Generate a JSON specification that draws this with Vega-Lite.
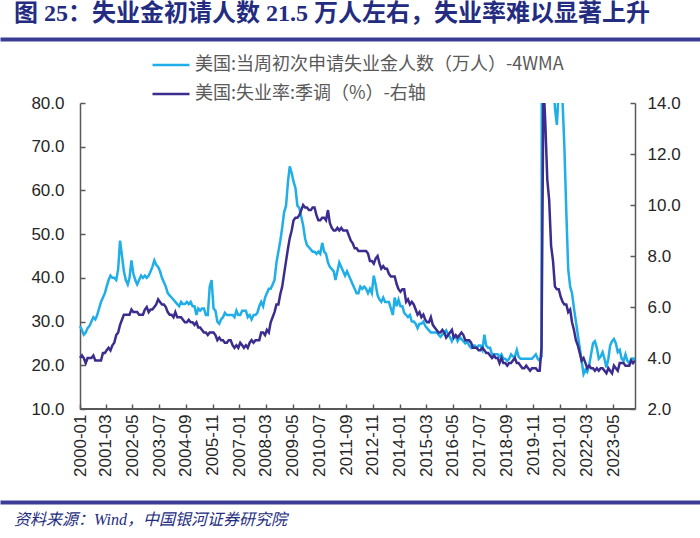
{
  "$schema": "https://vega.github.io/schema/vega-lite/v6.json",
  "padding": 0,
  "background": "white",
  "columns": 1,
  "spacing": -1,
  "resolve": {"scale": {"color": "independent"}, "legend": {"color": "independent"}},
  "config": {
    "view": {"stroke": null},
    "axis": {"domainColor": "#595959", "tickColor": "#595959", "labelColor": "#262626", "labelFont": "Liberation Sans", "labelFontSize": 17, "grid": false, "domainWidth": 1.5, "tickWidth": 1.5, "title": null, "labelOverlap": false},
    "legend": {"padding": 0}
  },
  "concat": [
    {
      "width": 700,
      "height": 1,
      "view": {"stroke": "#3C3C96", "strokeWidth": 3, "fill": "white"},
      "title": {"text": "图 25：失业金初请人数 21.5 万人左右，失业率难以显著上升", "anchor": "start", "fontSize": 24, "font": "Liberation Serif, Noto Sans CJK SC", "fontWeight": "bold", "color": "#232C80", "dx": 12, "offset": 8},
      "data": {"values": [{"k": 1}]},
      "mark": {"type": "text"},
      "encoding": {}
    },
    {
      "columns": 1,
      "spacing": 18,
      "resolve": {"scale": {"color": "independent"}, "legend": {"color": "independent"}},
      "concat": [
        {
          "width": 633,
          "height": 306,
          "data": {"values": [
{"date":"2000-01-15","claims":29.0,"rate":4.0},{"date":"2000-02-15","claims":28.0,"rate":4.1},{"date":"2000-03-15","claims":27.0,"rate":4.0},{"date":"2000-04-15","claims":27.5,"rate":3.8},{"date":"2000-05-15","claims":28.5,"rate":4.0},{"date":"2000-06-15","claims":29.0,"rate":4.0},{"date":"2000-07-15","claims":30.0,"rate":4.0},{"date":"2000-08-15","claims":31.0,"rate":4.1},{"date":"2000-09-15","claims":30.5,"rate":3.9},{"date":"2000-10-15","claims":31.5,"rate":3.9},{"date":"2000-11-15","claims":33.0,"rate":3.9},{"date":"2000-12-15","claims":34.5,"rate":3.9},
{"date":"2001-01-15","claims":35.5,"rate":4.2},{"date":"2001-02-15","claims":36.5,"rate":4.2},{"date":"2001-03-15","claims":38.0,"rate":4.3},{"date":"2001-04-15","claims":39.5,"rate":4.4},{"date":"2001-05-15","claims":40.5,"rate":4.3},{"date":"2001-06-15","claims":40.0,"rate":4.5},{"date":"2001-07-15","claims":40.0,"rate":4.6},{"date":"2001-08-15","claims":39.5,"rate":4.9},{"date":"2001-09-15","claims":42.0,"rate":5.0},{"date":"2001-10-15","claims":48.5,"rate":5.3},{"date":"2001-11-15","claims":45.0,"rate":5.5},{"date":"2001-12-15","claims":41.5,"rate":5.7},
{"date":"2002-01-15","claims":39.5,"rate":5.7},{"date":"2002-02-15","claims":38.5,"rate":5.7},{"date":"2002-03-15","claims":40.0,"rate":5.7},{"date":"2002-04-15","claims":44.0,"rate":5.9},{"date":"2002-05-15","claims":41.0,"rate":5.8},{"date":"2002-06-15","claims":39.5,"rate":5.8},{"date":"2002-07-15","claims":38.5,"rate":5.8},{"date":"2002-08-15","claims":39.5,"rate":5.7},{"date":"2002-09-15","claims":40.5,"rate":5.7},{"date":"2002-10-15","claims":40.0,"rate":5.7},{"date":"2002-11-15","claims":40.5,"rate":5.9},{"date":"2002-12-15","claims":40.0,"rate":6.0},
{"date":"2003-01-15","claims":40.5,"rate":5.8},{"date":"2003-02-15","claims":41.5,"rate":5.9},{"date":"2003-03-15","claims":42.5,"rate":5.9},{"date":"2003-04-15","claims":44.0,"rate":6.0},{"date":"2003-05-15","claims":43.0,"rate":6.1},{"date":"2003-06-15","claims":42.5,"rate":6.3},{"date":"2003-07-15","claims":41.5,"rate":6.2},{"date":"2003-08-15","claims":40.0,"rate":6.1},{"date":"2003-09-15","claims":39.0,"rate":6.1},{"date":"2003-10-15","claims":38.0,"rate":6.0},{"date":"2003-11-15","claims":36.5,"rate":5.8},{"date":"2003-12-15","claims":36.0,"rate":5.7},
{"date":"2004-01-15","claims":35.5,"rate":5.7},{"date":"2004-02-15","claims":35.0,"rate":5.6},{"date":"2004-03-15","claims":34.5,"rate":5.8},{"date":"2004-04-15","claims":34.0,"rate":5.6},{"date":"2004-05-15","claims":33.5,"rate":5.6},{"date":"2004-06-15","claims":34.5,"rate":5.6},{"date":"2004-07-15","claims":34.0,"rate":5.5},{"date":"2004-08-15","claims":34.0,"rate":5.4},{"date":"2004-09-15","claims":34.5,"rate":5.4},{"date":"2004-10-15","claims":34.0,"rate":5.5},{"date":"2004-11-15","claims":34.5,"rate":5.4},{"date":"2004-12-15","claims":33.5,"rate":5.4},
{"date":"2005-01-15","claims":33.5,"rate":5.3},{"date":"2005-02-15","claims":31.5,"rate":5.4},{"date":"2005-03-15","claims":33.0,"rate":5.2},{"date":"2005-04-15","claims":32.5,"rate":5.2},{"date":"2005-05-15","claims":33.0,"rate":5.1},{"date":"2005-06-15","claims":33.0,"rate":5.0},{"date":"2005-07-15","claims":31.5,"rate":5.0},{"date":"2005-08-15","claims":31.5,"rate":4.9},{"date":"2005-09-15","claims":38.0,"rate":5.0},{"date":"2005-10-15","claims":39.5,"rate":5.0},{"date":"2005-11-15","claims":33.0,"rate":5.0},{"date":"2005-12-15","claims":32.5,"rate":4.9},
{"date":"2006-01-15","claims":30.0,"rate":4.7},{"date":"2006-02-15","claims":29.5,"rate":4.8},{"date":"2006-03-15","claims":30.5,"rate":4.7},{"date":"2006-04-15","claims":31.0,"rate":4.7},{"date":"2006-05-15","claims":32.0,"rate":4.6},{"date":"2006-06-15","claims":31.5,"rate":4.6},{"date":"2006-07-15","claims":31.5,"rate":4.7},{"date":"2006-08-15","claims":31.5,"rate":4.7},{"date":"2006-09-15","claims":31.5,"rate":4.5},{"date":"2006-10-15","claims":31.0,"rate":4.4},{"date":"2006-11-15","claims":32.5,"rate":4.5},{"date":"2006-12-15","claims":31.5,"rate":4.4},
{"date":"2007-01-15","claims":31.5,"rate":4.6},{"date":"2007-02-15","claims":32.5,"rate":4.5},{"date":"2007-03-15","claims":32.5,"rate":4.4},{"date":"2007-04-15","claims":32.5,"rate":4.5},{"date":"2007-05-15","claims":31.0,"rate":4.4},{"date":"2007-06-15","claims":31.5,"rate":4.6},{"date":"2007-07-15","claims":30.5,"rate":4.7},{"date":"2007-08-15","claims":31.5,"rate":4.6},{"date":"2007-09-15","claims":31.5,"rate":4.7},{"date":"2007-10-15","claims":32.0,"rate":4.7},{"date":"2007-11-15","claims":33.5,"rate":4.7},{"date":"2007-12-15","claims":34.5,"rate":5.0},
{"date":"2008-01-15","claims":33.5,"rate":5.0},{"date":"2008-02-15","claims":35.5,"rate":4.9},{"date":"2008-03-15","claims":36.5,"rate":5.1},{"date":"2008-04-15","claims":37.5,"rate":5.0},{"date":"2008-05-15","claims":37.5,"rate":5.4},{"date":"2008-06-15","claims":38.5,"rate":5.6},{"date":"2008-07-15","claims":39.5,"rate":5.8},{"date":"2008-08-15","claims":43.5,"rate":6.1},{"date":"2008-09-15","claims":46.0,"rate":6.1},{"date":"2008-10-15","claims":48.5,"rate":6.5},{"date":"2008-11-15","claims":51.5,"rate":6.8},{"date":"2008-12-15","claims":55.0,"rate":7.3},
{"date":"2009-01-15","claims":56.5,"rate":7.8},{"date":"2009-02-15","claims":62.0,"rate":8.3},{"date":"2009-03-15","claims":65.5,"rate":8.7},{"date":"2009-04-15","claims":64.0,"rate":9.0},{"date":"2009-05-15","claims":62.0,"rate":9.4},{"date":"2009-06-15","claims":60.5,"rate":9.5},{"date":"2009-07-15","claims":56.5,"rate":9.5},{"date":"2009-08-15","claims":56.0,"rate":9.6},{"date":"2009-09-15","claims":54.0,"rate":9.8},{"date":"2009-10-15","claims":52.0,"rate":10.0},{"date":"2009-11-15","claims":49.0,"rate":9.9},{"date":"2009-12-15","claims":47.5,"rate":9.9},
{"date":"2010-01-15","claims":47.0,"rate":9.8},{"date":"2010-02-15","claims":46.5,"rate":9.8},{"date":"2010-03-15","claims":46.0,"rate":9.9},{"date":"2010-04-15","claims":46.0,"rate":9.9},{"date":"2010-05-15","claims":45.5,"rate":9.6},{"date":"2010-06-15","claims":46.0,"rate":9.4},{"date":"2010-07-15","claims":45.5,"rate":9.4},{"date":"2010-08-15","claims":48.0,"rate":9.5},{"date":"2010-09-15","claims":46.0,"rate":9.5},{"date":"2010-10-15","claims":45.5,"rate":9.4},{"date":"2010-11-15","claims":43.5,"rate":9.8},{"date":"2010-12-15","claims":42.5,"rate":9.3},
{"date":"2011-01-15","claims":42.0,"rate":9.1},{"date":"2011-02-15","claims":41.5,"rate":9.0},{"date":"2011-03-15","claims":39.5,"rate":9.0},{"date":"2011-04-15","claims":41.5,"rate":9.1},{"date":"2011-05-15","claims":43.5,"rate":9.0},{"date":"2011-06-15","claims":42.5,"rate":9.1},{"date":"2011-07-15","claims":41.5,"rate":9.0},{"date":"2011-08-15","claims":40.5,"rate":9.0},{"date":"2011-09-15","claims":41.5,"rate":9.0},{"date":"2011-10-15","claims":40.5,"rate":8.8},{"date":"2011-11-15","claims":39.5,"rate":8.6},{"date":"2011-12-15","claims":38.5,"rate":8.5},
{"date":"2012-01-15","claims":37.5,"rate":8.3},{"date":"2012-02-15","claims":36.5,"rate":8.3},{"date":"2012-03-15","claims":36.5,"rate":8.2},{"date":"2012-04-15","claims":38.0,"rate":8.2},{"date":"2012-05-15","claims":37.5,"rate":8.2},{"date":"2012-06-15","claims":38.0,"rate":8.2},{"date":"2012-07-15","claims":37.5,"rate":8.2},{"date":"2012-08-15","claims":36.5,"rate":8.1},{"date":"2012-09-15","claims":37.5,"rate":7.8},{"date":"2012-10-15","claims":36.5,"rate":7.8},{"date":"2012-11-15","claims":40.5,"rate":7.7},{"date":"2012-12-15","claims":38.5,"rate":7.9},
{"date":"2013-01-15","claims":36.0,"rate":8.0},{"date":"2013-02-15","claims":35.0,"rate":7.7},{"date":"2013-03-15","claims":34.5,"rate":7.5},{"date":"2013-04-15","claims":35.5,"rate":7.6},{"date":"2013-05-15","claims":34.5,"rate":7.5},{"date":"2013-06-15","claims":34.5,"rate":7.5},{"date":"2013-07-15","claims":34.5,"rate":7.3},{"date":"2013-08-15","claims":33.0,"rate":7.2},{"date":"2013-09-15","claims":31.5,"rate":7.2},{"date":"2013-10-15","claims":35.5,"rate":7.2},{"date":"2013-11-15","claims":33.5,"rate":6.9},{"date":"2013-12-15","claims":35.0,"rate":6.7},
{"date":"2014-01-15","claims":33.5,"rate":6.6},{"date":"2014-02-15","claims":33.5,"rate":6.7},{"date":"2014-03-15","claims":32.0,"rate":6.7},{"date":"2014-04-15","claims":31.5,"rate":6.2},{"date":"2014-05-15","claims":31.0,"rate":6.3},{"date":"2014-06-15","claims":31.5,"rate":6.1},{"date":"2014-07-15","claims":30.0,"rate":6.2},{"date":"2014-08-15","claims":30.0,"rate":6.1},{"date":"2014-09-15","claims":29.5,"rate":5.9},{"date":"2014-10-15","claims":28.5,"rate":5.7},{"date":"2014-11-15","claims":29.5,"rate":5.8},{"date":"2014-12-15","claims":29.5,"rate":5.6},
{"date":"2015-01-15","claims":30.0,"rate":5.7},{"date":"2015-02-15","claims":29.0,"rate":5.5},{"date":"2015-03-15","claims":28.5,"rate":5.4},{"date":"2015-04-15","claims":28.0,"rate":5.4},{"date":"2015-05-15","claims":27.5,"rate":5.6},{"date":"2015-06-15","claims":27.5,"rate":5.3},{"date":"2015-07-15","claims":27.5,"rate":5.2},{"date":"2015-08-15","claims":27.5,"rate":5.1},{"date":"2015-09-15","claims":27.0,"rate":5.0},{"date":"2015-10-15","claims":26.5,"rate":5.0},{"date":"2015-11-15","claims":27.0,"rate":5.1},{"date":"2015-12-15","claims":27.5,"rate":5.0},
{"date":"2016-01-15","claims":28.0,"rate":4.8},{"date":"2016-02-15","claims":27.0,"rate":4.9},{"date":"2016-03-15","claims":26.5,"rate":5.0},{"date":"2016-04-15","claims":25.5,"rate":5.1},{"date":"2016-05-15","claims":26.5,"rate":4.8},{"date":"2016-06-15","claims":26.5,"rate":4.9},{"date":"2016-07-15","claims":25.5,"rate":4.8},{"date":"2016-08-15","claims":26.5,"rate":4.9},{"date":"2016-09-15","claims":26.0,"rate":5.0},{"date":"2016-10-15","claims":25.5,"rate":4.9},{"date":"2016-11-15","claims":25.0,"rate":4.7},{"date":"2016-12-15","claims":25.5,"rate":4.7},
{"date":"2017-01-15","claims":24.5,"rate":4.7},{"date":"2017-02-15","claims":24.0,"rate":4.6},{"date":"2017-03-15","claims":24.5,"rate":4.4},{"date":"2017-04-15","claims":24.5,"rate":4.4},{"date":"2017-05-15","claims":24.0,"rate":4.4},{"date":"2017-06-15","claims":24.5,"rate":4.3},{"date":"2017-07-15","claims":24.5,"rate":4.3},{"date":"2017-08-15","claims":23.5,"rate":4.4},{"date":"2017-09-15","claims":27.0,"rate":4.3},{"date":"2017-10-15","claims":24.5,"rate":4.2},{"date":"2017-11-15","claims":24.0,"rate":4.2},{"date":"2017-12-15","claims":24.0,"rate":4.1},
{"date":"2018-01-15","claims":22.5,"rate":4.0},{"date":"2018-02-15","claims":22.5,"rate":4.1},{"date":"2018-03-15","claims":22.5,"rate":4.0},{"date":"2018-04-15","claims":22.5,"rate":4.0},{"date":"2018-05-15","claims":22.0,"rate":3.8},{"date":"2018-06-15","claims":22.5,"rate":4.0},{"date":"2018-07-15","claims":21.5,"rate":3.8},{"date":"2018-08-15","claims":21.5,"rate":3.8},{"date":"2018-09-15","claims":21.0,"rate":3.7},{"date":"2018-10-15","claims":21.5,"rate":3.8},{"date":"2018-11-15","claims":22.5,"rate":3.8},{"date":"2018-12-15","claims":22.0,"rate":3.9},
{"date":"2019-01-15","claims":22.0,"rate":4.0},{"date":"2019-02-15","claims":23.5,"rate":3.8},{"date":"2019-03-15","claims":22.0,"rate":3.8},{"date":"2019-04-15","claims":21.5,"rate":3.7},{"date":"2019-05-15","claims":21.5,"rate":3.6},{"date":"2019-06-15","claims":21.5,"rate":3.6},{"date":"2019-07-15","claims":21.5,"rate":3.7},{"date":"2019-08-15","claims":21.5,"rate":3.6},{"date":"2019-09-15","claims":21.5,"rate":3.5},{"date":"2019-10-15","claims":21.5,"rate":3.6},{"date":"2019-11-15","claims":22.0,"rate":3.6},{"date":"2019-12-15","claims":22.5,"rate":3.6},
{"date":"2020-01-15","claims":21.5,"rate":3.5},{"date":"2020-02-15","claims":21.0,"rate":3.5},{"date":"2020-03-15","claims":22.0,"rate":4.4},{"date":"2020-04-15","claims":550,"rate":14.8},{"date":"2020-05-15","claims":300,"rate":13.2},{"date":"2020-06-15","claims":160,"rate":11.0},{"date":"2020-07-15","claims":135,"rate":10.2},{"date":"2020-08-15","claims":105,"rate":8.4},{"date":"2020-09-15","claims":87,"rate":7.8},{"date":"2020-10-15","claims":79,"rate":6.8},{"date":"2020-11-15","claims":75,"rate":6.7},{"date":"2020-12-15","claims":83,"rate":6.7},
{"date":"2021-01-15","claims":86,"rate":6.4},{"date":"2021-02-15","claims":80,"rate":6.2},{"date":"2021-03-15","claims":70,"rate":6.1},{"date":"2021-04-15","claims":55,"rate":6.1},{"date":"2021-05-15","claims":42,"rate":5.8},{"date":"2021-06-15","claims":38,"rate":5.9},{"date":"2021-07-15","claims":36.5,"rate":5.4},{"date":"2021-08-15","claims":33,"rate":5.1},{"date":"2021-09-15","claims":30,"rate":4.7},{"date":"2021-10-15","claims":27,"rate":4.5},{"date":"2021-11-15","claims":24,"rate":4.2},{"date":"2021-12-15","claims":21,"rate":3.9},
{"date":"2022-01-15","claims":18.0,"rate":4.0},{"date":"2022-02-15","claims":19.0,"rate":3.8},{"date":"2022-03-15","claims":18.5,"rate":3.6},{"date":"2022-04-15","claims":20.0,"rate":3.7},{"date":"2022-05-15","claims":22.5,"rate":3.6},{"date":"2022-06-15","claims":25.0,"rate":3.6},{"date":"2022-07-15","claims":25.5,"rate":3.5},{"date":"2022-08-15","claims":24.0,"rate":3.6},{"date":"2022-09-15","claims":21.5,"rate":3.5},{"date":"2022-10-15","claims":22.0,"rate":3.6},{"date":"2022-11-15","claims":23.0,"rate":3.6},{"date":"2022-12-15","claims":21.5,"rate":3.5},
{"date":"2023-01-15","claims":19.5,"rate":3.4},{"date":"2023-02-15","claims":21.5,"rate":3.6},{"date":"2023-03-15","claims":24.5,"rate":3.5},{"date":"2023-04-15","claims":25.5,"rate":3.4},{"date":"2023-05-15","claims":26.0,"rate":3.7},{"date":"2023-06-15","claims":25.0,"rate":3.6},{"date":"2023-07-15","claims":23.0,"rate":3.5},{"date":"2023-08-15","claims":23.5,"rate":3.8},{"date":"2023-09-15","claims":21.5,"rate":3.8},{"date":"2023-10-15","claims":21.0,"rate":3.8},{"date":"2023-11-15","claims":22.5,"rate":3.7},{"date":"2023-12-15","claims":21.0,"rate":3.7},
{"date":"2024-01-15","claims":20.5,"rate":3.7},{"date":"2024-02-15","claims":21.5,"rate":3.9},{"date":"2024-03-15","claims":21.5,"rate":3.8},{"date":"2024-04-15","claims":21.5,"rate":3.9}
          ]},
          "encoding": {
            "x": {"field": "date", "type": "temporal",
              "scale": {"domain": [{"year": 1996, "month": 8, "date": 18}, {"year": 2024, "month": 4, "date": 15}]},
              "axis": {"format": "%Y-%m", "labelAngle": -90, "tickSize": -5, "labelPadding": 10, "labelOverlap": false, "labelBound": false, "labelFlush": false, "domain": false,
                "values": [{"year":2000,"month":1,"date":15},{"year":2001,"month":3,"date":1},{"year":2002,"month":5,"date":1},{"year":2003,"month":7,"date":1},{"year":2004,"month":9,"date":1},{"year":2005,"month":11,"date":1},{"year":2007,"month":1,"date":1},{"year":2008,"month":3,"date":1},{"year":2009,"month":5,"date":1},{"year":2010,"month":7,"date":1},{"year":2011,"month":9,"date":1},{"year":2012,"month":11,"date":1},{"year":2014,"month":1,"date":1},{"year":2015,"month":3,"date":1},{"year":2016,"month":5,"date":1},{"year":2017,"month":7,"date":1},{"year":2018,"month":9,"date":1},{"year":2019,"month":11,"date":1},{"year":2021,"month":1,"date":1},{"year":2022,"month":3,"date":1},{"year":2023,"month":5,"date":1}]}}
          },
          "layer": [
            {
              "layer": [
                {
                  "mark": {"type": "rule", "color": "#595959", "strokeWidth": 1.5},
                  "encoding": {
                    "x": {"datum": {"year": 2000, "month": 1, "date": 15}, "type": "temporal"},
                    "x2": {"datum": {"year": 2024, "month": 4, "date": 15}},
                    "y": {"datum": 10, "type": "quantitative"}
                  }
                },
                {
                  "mark": {"type": "line", "strokeWidth": 2.5, "clip": true},
                  "encoding": {
                    "y": {"field": "claims", "type": "quantitative",
                      "scale": {"domain": [10, 80], "nice": false, "zero": false},
                      "axis": {"values": [10,20,30,40,50,60,70,80], "format": ".1f", "tickSize": -5, "labelPadding": 21, "offset": -78}},
                    "color": {"datum": "美国:当周初次申请失业金人数（万人）-4WMA", "type": "nominal",
                      "scale": {"domain": ["美国:当周初次申请失业金人数（万人）-4WMA", "美国:失业率:季调（%）-右轴"], "range": ["#1FAEE8", "#3B2D8E"]},
                      "legend": {"orient": "none", "legendX": 149, "legendY": -58, "direction": "vertical", "title": null,
                        "symbolType": "stroke", "symbolSize": 1369, "symbolStrokeWidth": 2.5, "labelFont": "Noto Sans CJK SC",
                        "labelFontSize": 18, "labelColor": "#595959", "labelOffset": 4, "rowPadding": -14, "labelLimit": 600}}
                  }
                }
              ]
            },
            {
              "mark": {"type": "line", "strokeWidth": 2.5, "clip": true},
              "encoding": {
                "y": {"field": "rate", "type": "quantitative",
                  "scale": {"domain": [2, 14], "nice": false, "zero": false},
                  "axis": {"orient": "right", "values": [2,4,6,8,10,12,14], "format": ".1f", "tickSize": -5, "labelPadding": 17}},
                "color": {"datum": "美国:失业率:季调（%）-右轴", "type": "nominal"}
              }
            }
          ],
          "resolve": {"scale": {"y": "independent"}}
        },
        {
          "width": 700,
          "height": 1,
          "view": {"stroke": "#3C3C96", "strokeWidth": 3, "fill": "white"},
          "title": {"text": "资料来源：Wind，中国银河证券研究院", "orient": "bottom", "anchor": "start", "fontSize": 16, "font": "Liberation Serif, Noto Sans CJK SC", "fontStyle": "italic", "fontWeight": "normal", "color": "#232C80", "dx": 12, "offset": 4},
          "data": {"values": [{"k": 1}]},
          "mark": {"type": "text"},
          "encoding": {}
        }
      ]
    }
  ]
}
